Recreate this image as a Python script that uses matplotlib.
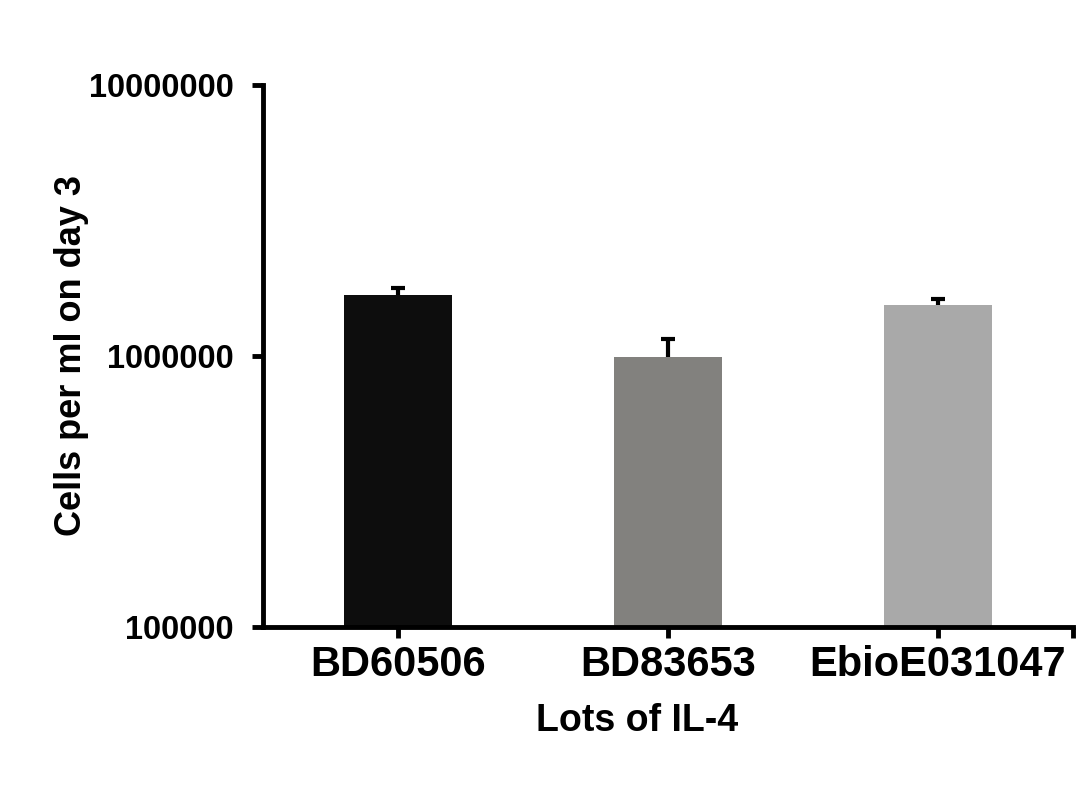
import numpy as np
import matplotlib.pyplot as plt

plt.rcParams['font.family'] = ['Liberation Sans', 'DejaVu Sans']
plt.rcParams['font.weight'] = 'bold'

lots = ['BD60506', 'BD83653', 'EbioE031047']
cells = [1.68e6, 0.99e6, 1.54e6]
err_up = [0.10e6, 0.17e6, 0.08e6]
colors = ['#0d0d0d', '#82817e', '#a9a9a9']

fig = plt.figure(figsize=(10.88, 7.95), dpi=100)
ax = fig.add_axes([0.2417, 0.2113, 0.7445, 0.6818])

x = np.arange(len(lots))
ax.bar(x, cells, width=0.4, color=colors, zorder=2)
# error bars sit behind the bars so only the upper half shows
ax.errorbar(x, cells, yerr=err_up, fmt='none',
            ecolor='black', elinewidth=3, capsize=5, capthick=3, zorder=1)

ax.set_yscale('log')
ax.set_ylim(1e5, 1e7)
ax.set_xlim(-0.5, 2.5)
ax.set_yticks([1e5, 1e6, 1e7])
ax.set_yticklabels(['100000', '1000000', '10000000'])
ax.yaxis.set_minor_locator(plt.NullLocator())
ax.set_xticks(x)
ax.set_xticklabels(lots)
ax.set_xticks([2.5], minor=True)

for s in ['top', 'right']:
    ax.spines[s].set_visible(False)
for s in ['left', 'bottom']:
    ax.spines[s].set_linewidth(3.5)
ax.tick_params(axis='both', which='both', direction='out', width=3.5, length=8)
ax.tick_params(axis='y', labelsize=23.5, pad=13)
ax.tick_params(axis='x', labelsize=30, pad=5)

ax.set_ylabel('Cells per ml on day 3', fontsize=26, fontweight='bold')
ax.yaxis.set_label_coords(-0.215, 0.5)
ax.set_xlabel('Lots of IL-4', fontsize=27, fontweight='bold')
ax.xaxis.set_label_coords(0.462, -0.14)

fig.savefig('out.png', dpi=100)
